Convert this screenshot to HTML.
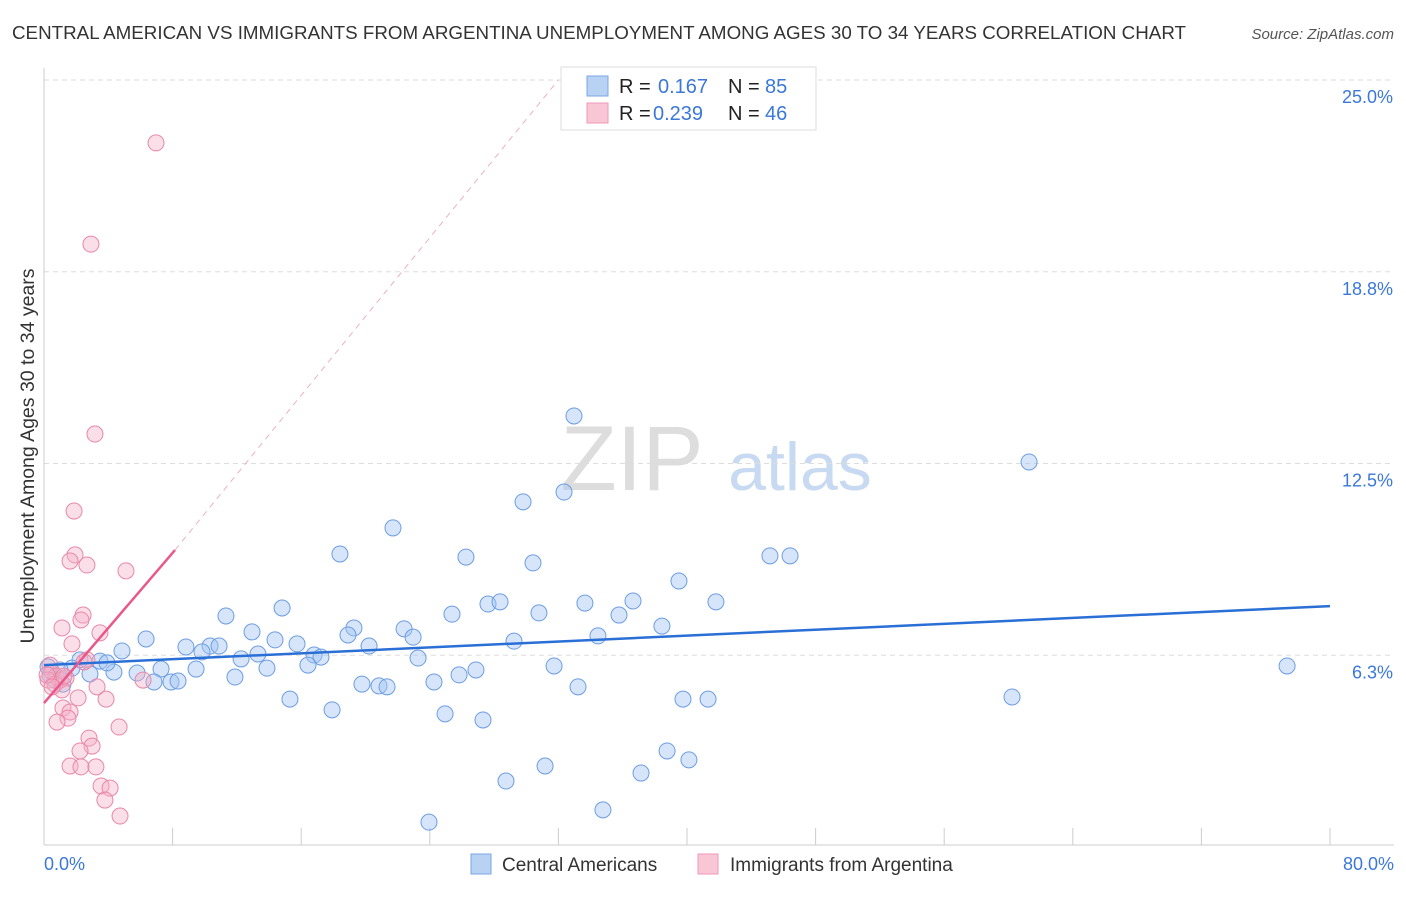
<!DOCTYPE html>
<html><head><meta charset="utf-8"><style>
body{margin:0;background:#fff;font-family:"Liberation Sans",sans-serif;}
svg text{font-family:"Liberation Sans",sans-serif;}
</style></head><body>
<svg id="chart" width="1406" height="892">
<text x="12" y="39" font-size="18.5" fill="#333" textLength="1174" lengthAdjust="spacingAndGlyphs">CENTRAL AMERICAN VS IMMIGRANTS FROM ARGENTINA UNEMPLOYMENT AMONG AGES 30 TO 34 YEARS CORRELATION CHART</text>
<text x="1394" y="39" font-size="15" font-style="italic" fill="#555" text-anchor="end">Source: ZipAtlas.com</text>
<text x="632" y="490" font-size="92" font-family="Liberation Serif" fill="#ddd" text-anchor="middle">ZIP</text>
<text x="800" y="490" font-size="68" fill="#c8daf2" text-anchor="middle">atlas</text>
<g id="grid"></g>
<g id="marks"></g>
<text transform="translate(34,456) rotate(-90)" font-size="19.5" fill="#333" text-anchor="middle">Unemployment Among Ages 30 to 34 years</text>
<text x="44" y="870" font-size="18" fill="#3b78d8">0.0%</text>
<text x="1394" y="870" font-size="18" fill="#3b78d8" text-anchor="end">80.0%</text>
<g>
<rect x="561" y="67" width="255" height="63" fill="#fff" stroke="#ddd"/>
<rect x="587" y="76" width="21" height="20" fill="#b8d2f4" stroke="#7aa6e6"/>
<rect x="587" y="103" width="21" height="20" fill="#f9c6d6" stroke="#ee9ab6"/>
<text x="619" y="93" font-size="20" fill="#222">R = </text><text x="658" y="93" font-size="20" fill="#3b78d8">0.167</text>
<text x="728" y="93" font-size="20" fill="#222">N = </text><text x="765" y="93" font-size="20" fill="#3b78d8">85</text>
<text x="619" y="120" font-size="20" fill="#222">R = </text><text x="653" y="120" font-size="20" fill="#3b78d8">0.239</text>
<text x="728" y="120" font-size="20" fill="#222">N = </text><text x="765" y="120" font-size="20" fill="#3b78d8">46</text>
</g>
<g>
<rect x="471" y="854" width="20" height="20" fill="#b8d2f4" stroke="#7aa6e6"/>
<text x="502" y="871" font-size="19" fill="#333">Central Americans</text>
<rect x="698" y="854" width="20" height="20" fill="#f9c6d6" stroke="#ee9ab6"/>
<text x="730" y="871" font-size="19" fill="#333">Immigrants from Argentina</text>
</g>
</svg>
<script>
const yTicks=[6.25,12.5,18.75,25];
const yTickLabels=["6.3%","12.5%","18.8%","25.0%"];
const blueX=[32.97,61.28,32.35,29.80,21.71,18.41,26.25,30.42,45.16,46.41,39.50,11.32,14.81,19.28,18.91,22.40,22.96,25.38,27.62,28.37,30.79,33.65,35.77,36.64,38.44,41.80,34.46,29.24,6.35,4.85,8.83,10.33,10.89,12.94,14.37,15.74,16.80,17.23,20.22,9.83,12.26,13.31,13.87,16.42,23.27,31.73,9.46,7.28,5.79,4.35,3.48,3.92,2.24,1.74,2.86,1.00,0.68,0.37,0.25,1.18,6.84,7.90,8.34,11.88,19.78,20.84,21.34,24.26,25.82,26.87,33.22,15.30,17.92,24.95,27.31,39.75,41.31,60.22,77.33,38.76,40.12,31.17,37.14,28.74,34.77,23.95];
const blueY=[14.05,12.55,11.57,11.25,10.40,9.55,9.45,9.26,9.49,9.49,8.67,7.53,7.79,7.14,6.91,7.11,6.84,7.59,7.92,7.99,7.63,7.95,7.56,8.02,7.20,7.99,6.88,6.71,6.78,6.39,6.52,6.55,6.55,7.01,6.75,6.62,6.26,6.19,6.55,6.36,6.13,6.29,5.83,5.93,6.16,5.90,5.80,5.80,5.67,5.70,6.06,6.00,6.10,5.83,5.64,5.77,5.44,5.61,5.87,5.31,5.38,5.38,5.41,5.54,5.31,5.25,5.22,5.38,5.61,5.77,5.22,4.82,4.47,4.34,4.14,4.82,4.82,4.89,5.90,3.13,2.84,2.64,2.41,2.15,1.21,0.81];
const pinkX=[6.97,2.92,3.17,1.87,1.93,1.62,2.67,5.10,2.43,2.30,1.12,3.48,1.74,2.67,2.49,0.37,0.50,0.75,1.00,0.25,1.37,6.16,0.68,1.12,3.30,2.12,3.86,1.18,1.62,1.49,0.81,4.67,2.80,2.99,2.24,1.62,2.30,3.23,3.55,4.11,3.79,4.73,0.19,0.50,1.24];
const pinkY=[22.95,19.65,13.46,10.95,9.52,9.32,9.19,9.00,7.56,7.40,7.14,6.98,6.62,6.10,6.03,5.93,5.70,5.57,5.44,5.44,5.51,5.44,5.31,5.12,5.22,4.86,4.82,4.53,4.40,4.20,4.07,3.91,3.55,3.29,3.13,2.64,2.61,2.61,1.99,1.92,1.53,1.01,5.61,5.22,5.57];
const blueTrend=[[0,5.93],[80,7.85]];
const pinkTrend=[[0,4.69],[8.15,9.68]];
const pinkDash=[[8.15,9.68],[32,25]];
const X0=44,X1=1330,Y0=847,Y1=80;
const sx=v=>X0+(X1-X0)*v/80;
const sy=v=>Y0-(Y0-Y1)*v/25;
const NS="http://www.w3.org/2000/svg";
function mk(tag,attrs,parent){const e=document.createElementNS(NS,tag);for(const k in attrs)e.setAttribute(k,attrs[k]);parent.appendChild(e);return e;}
const grid=document.getElementById('grid'),marks=document.getElementById('marks');
yTicks.forEach((t,i)=>{
 const l=mk('line',{x1:44,x2:1394,y1:sy(t),y2:sy(t),stroke:'#ddd','stroke-dasharray':'5,4'},grid);
 
 
 const tx=mk('text',{x:1393,y:sy(t)+23,'font-size':18,fill:'#3b78d8','text-anchor':'end'},grid);
 tx.textContent=yTickLabels[i];
 
 
});
const ax=mk('line',{x1:44,x2:44,y1:68,y2:845,stroke:'#ccc'},grid);


const bx=mk('line',{x1:44,x2:1394,y1:845,y2:845,stroke:'#ccc'},grid);


for(let i=0;i<=10;i++){
 const t=mk('line',{x1:sx(i*8),x2:sx(i*8),y1:828,y2:845,stroke:'#ccc'},grid);
 
 
}
const dl=mk('line',{x1:sx(pinkDash[0][0]),y1:sy(pinkDash[0][1]),x2:sx(pinkDash[1][0]),y2:sy(pinkDash[1][1]),stroke:'#eeb0c4','stroke-dasharray':'6,5','stroke-width':1},marks);


blueX.forEach((x,i)=>{
 const c=mk('circle',{cx:sx(x),cy:sy(blueY[i]),r:8,fill:'rgba(165,198,242,0.45)',stroke:'#6d9de2','stroke-width':1},marks);
 
 
});
pinkX.forEach((x,i)=>{
 const c=mk('circle',{cx:sx(x),cy:sy(pinkY[i]),r:8,fill:'rgba(246,175,198,0.4)',stroke:'#e887a8','stroke-width':1},marks);
 
 
});
const bl=mk('line',{x1:sx(blueTrend[0][0]),y1:sy(blueTrend[0][1]),x2:sx(blueTrend[1][0]),y2:sy(blueTrend[1][1]),stroke:'#2a6fd6','stroke-width':2.5},marks);


const pl=mk('line',{x1:sx(pinkTrend[0][0]),y1:sy(pinkTrend[0][1]),x2:sx(pinkTrend[1][0]),y2:sy(pinkTrend[1][1]),stroke:'#e8588a','stroke-width':2.5},marks);


</script>
</body></html>
